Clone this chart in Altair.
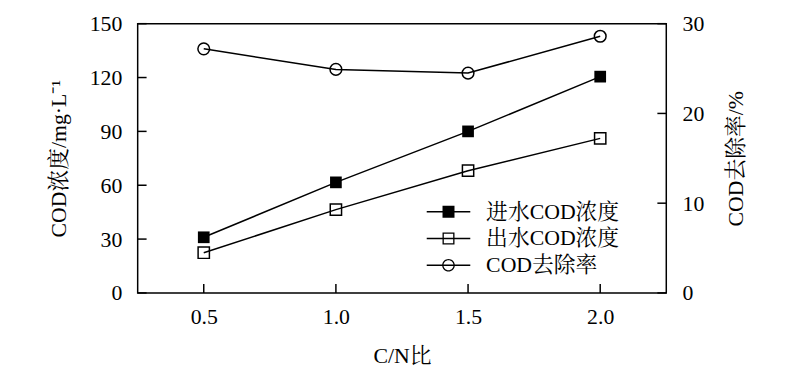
import altair as alt
import pandas as pd

cn_ratio = [0.5, 1.0, 1.5, 2.0]
inlet_cod = [31.0, 61.6, 90.0, 120.5]
outlet_cod = [22.4, 46.4, 68.1, 86.1]
removal_rate = [27.2, 24.9, 24.5, 28.6]

series_names = ["进水COD浓度", "出水COD浓度", "COD去除率"]
left_ticks = [0, 30, 60, 90, 120, 150]
right_ticks = [0, 10, 20, 30]
x_ticks = [0.5, 1.0, 1.5, 2.0]

FONT = "'Liberation Serif', 'Times New Roman', 'Noto Serif CJK SC', 'Noto Sans CJK SC', serif"
W, H, TICK = 534, 272, 9

df = pd.DataFrame({"cn": cn_ratio, "inlet": inlet_cod, "outlet": outlet_cod, "removal": removal_rate,
                   "xt": x_ticks, "rt": right_ticks})
legend_df = pd.DataFrame({"cn": cn_ratio[:3], "val": [50, 50, 50], "series": series_names})
lt_df = pd.DataFrame({"lt": [float(v) for v in left_ticks]})

axis_style = dict(labelFont=FONT, titleFont=FONT, labelFontSize=22, titleFontSize=22,
                  labelColor="black", titleColor="black", ticks=False,
                  titleFontWeight="normal", grid=False, domain=False)

LTITLE = "COD浓度/mg·L⁻¹"
RTITLE = "COD去除率/%"
XTITLE = "C/N比"

x_scale = alt.Scale(domain=[0.25, 2.25], nice=False, zero=False)
x_axis = alt.Axis(values=x_ticks, format=".1f", labelPadding=14, titlePadding=18, **axis_style)
left_scale = alt.Scale(domain=[0, 150], nice=False)
left_axis = alt.Axis(values=left_ticks, orient="left", labelPadding=16, titlePadding=19, **axis_style)
right_scale = alt.Scale(domain=[0, 30], nice=False)
right_axis = alt.Axis(values=right_ticks, orient="right", labelPadding=16, titlePadding=22,
                      titleAngle=270, titleBaseline="top", **axis_style)

base = alt.Chart(df)

# inward tick marks (drawn first so that they define the scales and axes)
left_tick_marks = alt.Chart(lt_df).mark_rule(color="black", strokeWidth=1.5).encode(
    y=alt.Y("lt:Q", title=LTITLE, scale=left_scale, axis=left_axis),
    x=alt.value(0), x2=alt.value(TICK))
x_tick_marks = base.mark_rule(color="black", strokeWidth=1.5).encode(
    x=alt.X("xt:Q", title=XTITLE, scale=x_scale, axis=x_axis),
    y=alt.value(H - TICK), y2=alt.value(H))
right_tick_marks = base.mark_rule(color="black", strokeWidth=1.5).encode(
    y=alt.Y("rt:Q", title=RTITLE, scale=right_scale, axis=right_axis),
    x=alt.value(W - TICK), x2=alt.value(W))

inlet_line = base.mark_line(color="black", strokeWidth=1.5).encode(
    x=alt.X("cn:Q", title=XTITLE, scale=x_scale, axis=x_axis),
    y=alt.Y("inlet:Q", title=LTITLE, scale=left_scale, axis=left_axis))
inlet_pts = base.mark_point(shape="square", filled=True, color="black", size=140, opacity=1).encode(
    x=alt.X("cn:Q", title=XTITLE), y=alt.Y("inlet:Q", title=LTITLE))
outlet_line = base.mark_line(color="black", strokeWidth=1.5).encode(
    x=alt.X("cn:Q", title=XTITLE), y=alt.Y("outlet:Q", title=LTITLE))
outlet_pts = base.mark_point(shape="square", filled=False, color="black", size=130, strokeWidth=1.5, opacity=1).encode(
    x=alt.X("cn:Q", title=XTITLE), y=alt.Y("outlet:Q", title=LTITLE))

# legend symbols: line with marker, drawn as filled outlines (unit path scaled by 11px)
line_p = "M-2,-0.068H2V0.068H-2Z"
sq_out = "M-0.55,-0.55H0.55V0.55H-0.55Z"
sq_in = "M-0.43,-0.43V0.43H0.43V-0.43Z"
c_out = "M-0.58,0A0.58,0.58 0 1,1 0.58,0A0.58,0.58 0 1,1 -0.58,0Z"
c_in = "M-0.46,0A0.46,0.46 0 1,0 0.46,0A0.46,0.46 0 1,0 -0.46,0Z"
sym_filled_sq = line_p + sq_out
sym_open_sq = line_p + sq_out + sq_in
sym_open_c = line_p + c_out + c_in

leg = alt.Legend(orient="none", legendX=303, legendY=179, title=None,
                 symbolOpacity=1, symbolFillColor="black", symbolStrokeWidth=0,
                 symbolSize=484, labelFont=FONT, labelFontSize=22, labelColor="black",
                 labelOffset=27, rowPadding=5, padding=0)

legend_layer = alt.Chart(legend_df).mark_point(opacity=0, size=484, filled=True, color="black").encode(
    x=alt.X("cn:Q", title=XTITLE), y=alt.Y("val:Q", title=LTITLE),
    shape=alt.Shape("series:N", title=None,
                    scale=alt.Scale(domain=series_names, range=[sym_filled_sq, sym_open_sq, sym_open_c]),
                    legend=leg),
)

left = alt.layer(left_tick_marks, x_tick_marks, inlet_line, inlet_pts, outlet_line, outlet_pts, legend_layer)

rem_line = base.mark_line(color="black", strokeWidth=1.5).encode(
    x=alt.X("cn:Q", title=XTITLE), y=alt.Y("removal:Q", title=RTITLE))
rem_pts = base.mark_point(shape="circle", filled=False, color="black", size=140, strokeWidth=1.5, opacity=1).encode(
    x=alt.X("cn:Q", title=XTITLE), y=alt.Y("removal:Q", title=RTITLE))
right = alt.layer(right_tick_marks, rem_line, rem_pts)

chart = alt.layer(left, right).resolve_scale(y="independent").properties(
    width=W, height=H,
    autosize=alt.AutoSizeParams(type="none"),
    padding={"left": 131, "top": 14, "right": 127, "bottom": 75},
).configure_view(stroke="black", strokeWidth=1.5).configure_axis(
    labelFont=FONT, titleFont=FONT,
).configure_legend(labelFont=FONT)

chart.save("out.html", embed_options={"renderer": "svg", "actions": False})
